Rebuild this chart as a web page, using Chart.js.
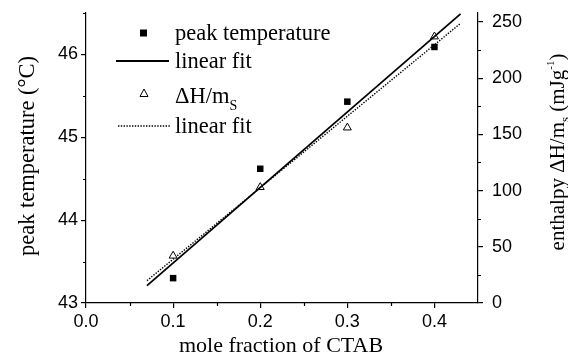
<!DOCTYPE html>
<html>
<head>
<meta charset="utf-8">
<script src="https://cdn.jsdelivr.net/npm/chart.js@4/dist/chart.umd.min.js"></script>
<style>
  body { margin: 0; background: #fff; }
  #chart { display: block; }
</style>
</head>
<body>
<canvas id="chart" width="568" height="356"></canvas>
<script>
// mole fraction of CTAB for each sample
const xValues = [0.1, 0.2, 0.3, 0.4];
// peak temperature, °C (left axis)
const peakTemp = [43.3, 44.62, 45.43, 46.09];
// enthalpy ΔH/m_s, mJ/g (right axis)
const enthalpy = [42, 103, 156, 237];
// linear fit end points
const fitRange = [0.07, 0.43];
const peakTempFit = [43.21, 46.49];
const enthalpyFit = [19.9, 248.8];
// minor tick positions
const xMinor = [0.05, 0.15, 0.25, 0.35];
const yMinor = [43.5, 44.5, 45.5, 46.5];
const y2Minor = [25, 75, 125, 175, 225];

const serif = '"Liberation Serif", "Times New Roman", serif';
const sans = '"Liberation Sans", Arial, sans-serif';

function toPoints(xs, ys) {
    return xs.map((x, i) => ({ x: x, y: ys[i] }));
}

// fixed axis sizes so the plot area lands at the same place every time
function fixSize(width, height) {
    return scale => {
        if (width) scale.width = width;
        if (height) scale.height = height;
        scale.paddingTop = 0;
        scale.paddingBottom = 0;
        scale.paddingLeft = 0;
        scale.paddingRight = 0;
    };
}

// small outward ticks between the labelled ones
const minorTicks = {
    id: 'minorTicks',
    afterDraw(chart) {
        const ctx = chart.ctx;
        const { x, y, y2 } = chart.scales;
        ctx.save();
        ctx.strokeStyle = '#000';
        ctx.lineWidth = 1.2;
        ctx.beginPath();
        xMinor.forEach(v => {
            const px = Math.round(x.getPixelForValue(v)) + 0.5;
            ctx.moveTo(px, x.top);
            ctx.lineTo(px, x.top + 3);
        });
        yMinor.forEach(v => {
            const py = Math.round(y.getPixelForValue(v)) + 0.5;
            ctx.moveTo(y.right, py);
            ctx.lineTo(y.right - 3, py);
        });
        y2Minor.forEach(v => {
            const py = Math.round(y2.getPixelForValue(v)) + 0.5;
            ctx.moveTo(y2.left, py);
            ctx.lineTo(y2.left + 3, py);
        });
        ctx.stroke();
        ctx.restore();
    }
};

// axis titles (the right one needs sub/superscripts)
const axisTitles = {
    id: 'axisTitles',
    afterDraw(chart) {
        const ctx = chart.ctx;
        ctx.save();
        ctx.fillStyle = '#000';
        ctx.font = '22px ' + serif;
        ctx.textAlign = 'center';
        ctx.textBaseline = 'alphabetic';
        ctx.fillText('mole fraction of CTAB', 281, 352);

        ctx.save();
        ctx.translate(34, 156);
        ctx.rotate(-Math.PI / 2);
        ctx.font = '22.5px ' + serif;
        ctx.fillText('peak temperature (°C)', 0, 0);
        ctx.restore();

        const parts = [
            { t: 'enthalpy ΔH/m', size: 21, dy: 0 },
            { t: 's', size: 13, dy: 5 },
            { t: ' (mJg', size: 21, dy: 0 },
            { t: '-1', size: 11, dy: -10 },
            { t: ')', size: 21, dy: 0 }
        ];
        ctx.textAlign = 'left';
        let total = 0;
        parts.forEach(p => {
            ctx.font = p.size + 'px ' + serif;
            p.w = ctx.measureText(p.t).width;
            total += p.w;
        });
        ctx.translate(564, 152);
        ctx.rotate(-Math.PI / 2);
        let cx = -total / 2;
        parts.forEach(p => {
            ctx.font = p.size + 'px ' + serif;
            ctx.fillText(p.t, cx, p.dy);
            cx += p.w;
        });
        ctx.restore();
    }
};

// legend in the upper left of the plot
const legendBox = {
    id: 'legendBox',
    afterDraw(chart) {
        const ctx = chart.ctx;
        ctx.save();
        ctx.fillStyle = '#000';
        ctx.strokeStyle = '#000';
        ctx.font = '22.5px ' + serif;
        ctx.textAlign = 'left';
        ctx.textBaseline = 'alphabetic';

        // filled square
        ctx.fillRect(140, 29.5, 7, 7);
        ctx.fillText('peak temperature', 175, 40);

        // solid line
        ctx.lineWidth = 1.8;
        ctx.beginPath();
        ctx.moveTo(116, 61);
        ctx.lineTo(169, 61);
        ctx.stroke();
        ctx.fillText('linear fit', 175, 68);

        // open triangle
        ctx.lineWidth = 1;
        ctx.fillStyle = '#fff';
        ctx.beginPath();
        ctx.moveTo(144, 89);
        ctx.lineTo(148, 96.5);
        ctx.lineTo(140, 96.5);
        ctx.closePath();
        ctx.fill();
        ctx.stroke();
        ctx.fillStyle = '#000';
        ctx.fillText('ΔH/m', 175, 103);
        const w = ctx.measureText('ΔH/m').width;
        ctx.font = '14px ' + serif;
        ctx.fillText('S', 175 + w, 110);
        ctx.font = '22.5px ' + serif;

        // dotted line
        ctx.lineWidth = 1.4;
        ctx.setLineDash([1.4, 1.4]);
        ctx.beginPath();
        ctx.moveTo(118, 126);
        ctx.lineTo(171, 126);
        ctx.stroke();
        ctx.setLineDash([]);
        ctx.fillText('linear fit', 175, 133);
        ctx.restore();
    }
};

const axisBorder = { display: true, color: '#000', width: 1.2 };
const axisGrid = { drawOnChartArea: false, drawTicks: true, tickLength: 5, color: '#000', lineWidth: 1.2 };
const tickFont = { family: sans, size: 18 };

new Chart(document.getElementById('chart'), {
    type: 'scatter',
    data: {
        datasets: [
            {
                label: 'peak temperature',
                data: toPoints(xValues, peakTemp),
                yAxisID: 'y',
                pointStyle: 'rect',
                pointRadius: 4.6,
                backgroundColor: '#000',
                borderColor: '#000',
                borderWidth: 0
            },
            {
                label: 'linear fit',
                data: toPoints(fitRange, peakTempFit),
                yAxisID: 'y',
                showLine: true,
                pointRadius: 0,
                borderColor: '#000',
                borderWidth: 1.8
            },
            {
                label: 'ΔH/mS',
                data: toPoints(xValues, enthalpy),
                yAxisID: 'y2',
                pointStyle: 'triangle',
                pointRadius: 4.6,
                backgroundColor: '#fff',
                borderColor: '#000',
                borderWidth: 1
            },
            {
                label: 'linear fit',
                data: toPoints(fitRange, enthalpyFit),
                yAxisID: 'y2',
                showLine: true,
                pointRadius: 0,
                borderColor: '#000',
                borderWidth: 1.4,
                borderDash: [1.4, 1.4]
            }
        ]
    },
    options: {
        responsive: false,
        animation: false,
        events: [],
        layout: { padding: { top: 13, left: 0, right: 0, bottom: 0 } },
        plugins: {
            legend: { display: false },
            tooltip: { enabled: false }
        },
        scales: {
            x: {
                type: 'linear',
                min: 0,
                max: 0.45,
                border: axisBorder,
                grid: axisGrid,
                ticks: {
                    stepSize: 0.1,
                    includeBounds: false,
                    color: '#000',
                    font: tickFont,
                    padding: 3,
                    maxRotation: 0,
                    callback: v => v.toFixed(1)
                },
                afterFit: fixSize(0, 53)
            },
            y: {
                position: 'left',
                min: 43,
                max: 46.5,
                border: axisBorder,
                grid: axisGrid,
                ticks: {
                    stepSize: 1,
                    includeBounds: false,
                    color: '#000',
                    font: tickFont,
                    padding: 3
                },
                afterFit: fixSize(86, 0)
            },
            y2: {
                position: 'right',
                min: 0,
                max: 258,
                border: axisBorder,
                grid: axisGrid,
                ticks: {
                    stepSize: 50,
                    includeBounds: false,
                    color: '#000',
                    font: tickFont,
                    padding: 9
                },
                afterFit: fixSize(90, 0)
            }
        }
    },
    plugins: [minorTicks, axisTitles, legendBox]
});
</script>
</body>
</html>
